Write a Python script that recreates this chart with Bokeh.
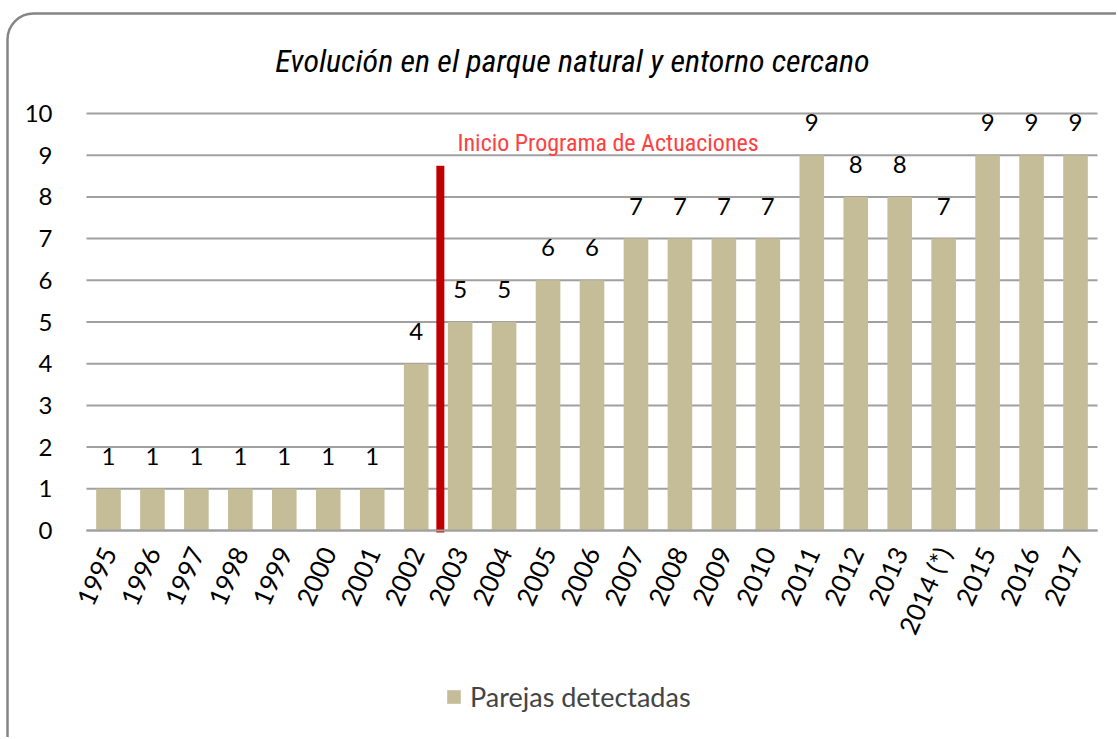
from bokeh.plotting import figure
from bokeh.models import (ColumnDataSource, LabelSet, Label, Range1d, FixedTicker,
                          Legend, LegendItem, BoxAnnotation)
from bokeh.core.properties import value
from bokeh.embed import file_html
from bokeh.resources import INLINE

years = ["1995", "1996", "1997", "1998", "1999", "2000", "2001", "2002", "2003",
         "2004", "2005", "2006", "2007", "2008", "2009", "2010", "2011", "2012",
         "2013", "2014 (*)", "2015", "2016", "2017"]
parejas = [1, 1, 1, 1, 1, 1, 1, 4, 5, 5, 6, 6, 7, 7, 7, 7, 9, 8, 8, 7, 9, 9, 9]
y_ticks = [0, 1, 2, 3, 4, 5, 6, 7, 8, 9, 10]
title_text = "Evolución en el parque natural y entorno cercano"
annot_text = "Inicio Programa de Actuaciones"
series_name = "Parejas detectadas"
start_year_index = 8          # program starts before "2003"
start_line_height = 8.75

BAR = "#C4BD97"
GRID = "#a0a0a0"
NARROW = "'Liberation Sans Narrow', 'Roboto Condensed', 'DejaVu Sans Condensed', sans-serif"
BODY = "Lato"

n = len(years)
x = list(range(n))
src = ColumnDataSource(dict(x=x, y=parejas, lbl=[str(v) for v in parejas]))

W, H = 1116, 737
# the whole canvas is the frame; axes are drawn at fixed locations inside it
PX_L, PX_R = 86, 1097          # plot-area pixel extent
PX_Y0, PX_Y10 = 530, 113
xs = (PX_R - PX_L) / n
ys = (PX_Y0 - PX_Y10) / 10.0
x_range = Range1d(-0.5 - PX_L / xs, n - 0.5 + (W - PX_R) / xs)
y_range = Range1d(-(H - PX_Y0) / ys, PX_Y0 / ys)

p = figure(width=W, height=H, output_backend="svg", toolbar_location=None,
           x_range=x_range, y_range=y_range,
           min_border_left=0, min_border_right=0, min_border_top=0,
           min_border_bottom=0)
p.outline_line_color = None
p.background_fill_color = "white"
p.border_fill_color = "white"
p.xgrid.visible = False
p.ygrid.visible = False

# horizontal gridlines at the y ticks, across the plot area
p.segment(x0=[-0.5] * len(y_ticks), x1=[n - 0.5] * len(y_ticks), y0=y_ticks, y1=y_ticks,
          line_color=GRID, line_width=2)

bars = p.vbar(x="x", top="y", width=0.56, source=src, fill_color=BAR, line_color=None)

p.add_layout(LabelSet(x="x", y="y", text="lbl", source=src, text_align="center",
                      text_baseline="alphabetic", y_offset=24, text_font=value(BODY),
                      text_font_size=value("24px"), text_color=value("black")))

# start-of-program line
xl = start_year_index - 0.45
p.segment(x0=[xl], y0=[-0.05], x1=[xl], y1=[start_line_height],
          line_color="#C00000", line_width=8)

p.add_layout(Label(x=7.94, y=9.3, text=annot_text, text_align="left",
                   text_baseline="middle", text_font=NARROW, text_font_size="24px",
                   text_color="#FF4040"))

p.add_layout(Label(x=-0.5 + (572 - PX_L) / xs, y=(PX_Y0 - 60) / ys, text=title_text,
                   text_align="center", text_baseline="middle", text_font=NARROW,
                   text_font_size="32px", text_font_style="italic",
                   text_color="black"))

# axes
p.xaxis.fixed_location = 0
p.xaxis.bounds = (-0.5, n - 0.5)
p.xaxis.ticker = FixedTicker(ticks=x)
p.xaxis.major_label_overrides = {i: y for i, y in enumerate(years)}
p.xaxis.major_label_orientation = 1.15
p.xaxis.major_label_text_font = BODY
p.xaxis.major_label_text_font_size = "26px"
p.xaxis.major_label_text_color = "black"
p.xaxis.major_label_standoff = 12
p.xaxis.major_tick_line_color = None
p.xaxis.minor_tick_line_color = None
p.xaxis.axis_line_color = GRID
p.xaxis.axis_line_width = 2

p.yaxis.fixed_location = -0.5
p.yaxis.bounds = (0, 10)
p.yaxis.ticker = FixedTicker(ticks=y_ticks)
p.yaxis.major_label_text_font = BODY
p.yaxis.major_label_text_font_size = "24px"
p.yaxis.major_label_text_color = "black"
p.yaxis.major_label_standoff = 28
p.yaxis.major_tick_line_color = None
p.yaxis.minor_tick_line_color = None
p.yaxis.axis_line_color = None

legend = Legend(items=[LegendItem(label=series_name, renderers=[bars])],
                location=(445, 24), orientation="horizontal",
                label_text_font=BODY, label_text_font_size="27px",
                glyph_width=17, glyph_height=17, padding=0, margin=0,
                spacing=0, label_standoff=8, border_line_color=None,
                background_fill_alpha=0)
p.add_layout(legend)

# rounded outer border of the chart area
p.add_layout(BoxAnnotation(left=7, right=1300, top=13, bottom=1000,
                           left_units="canvas", right_units="canvas",
                           top_units="canvas", bottom_units="canvas",
                           fill_color=None, line_color="#858585", line_width=2.5,
                           line_alpha=1.0, border_radius=26))

open("out.html", "w").write(file_html(p, INLINE))
